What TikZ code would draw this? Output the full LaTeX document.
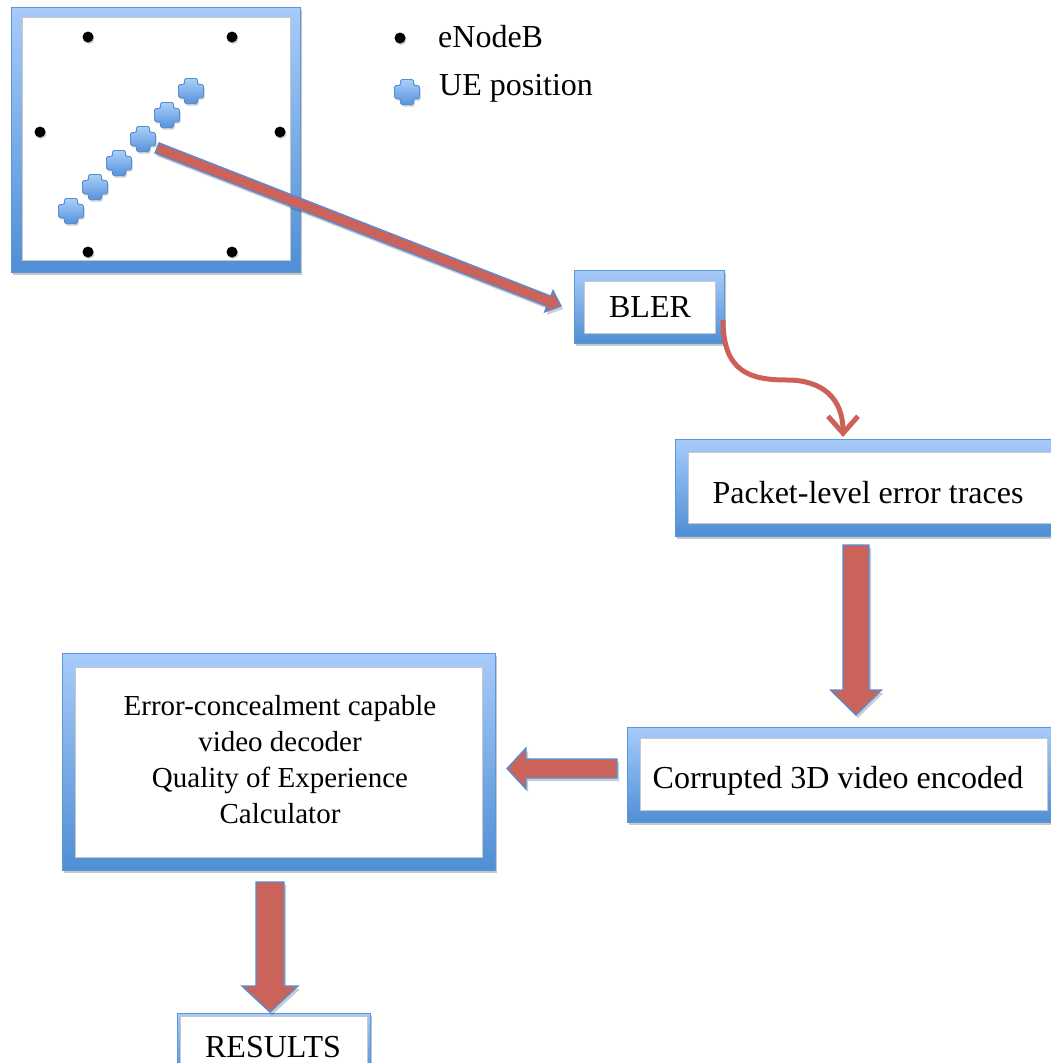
\documentclass[tikz,border=0pt]{standalone}
\usepackage{fontspec}
\setmainfont{Liberation Serif}
\usetikzlibrary{calc,shadows,arrows.meta}

\definecolor{frametop}{RGB}{167,203,250}
\definecolor{framebot}{RGB}{79,143,213}
\definecolor{frameline}{RGB}{91,150,215}
\definecolor{arrowred}{RGB}{203,99,91}
\definecolor{arrowline}{RGB}{84,141,212}
\definecolor{crosstop}{RGB}{172,206,249}
\definecolor{crossbot}{RGB}{86,148,220}
\definecolor{curvered}{RGB}{205,97,88}

% block arrow: tail, tip, half shaft width, head length, half head width
\newcommand\blockarrow[5]{%
  \draw[blockarr] let \p1=($(#2)-(#1)$), \n1={atan2(\y1,\x1)},
      \n2={veclen(\x1,\y1)-#4} in
    ($(#1)+(\n1+90:#3pt)$)
    -- ($(#1)+(\n1:{\n2*1pt})+(\n1+90:#3pt)$)
    -- ($(#1)+(\n1:{\n2*1pt})+(\n1+90:#5pt)$)
    -- (#2)
    -- ($(#1)+(\n1:{\n2*1pt})+(\n1-90:#5pt)$)
    -- ($(#1)+(\n1:{\n2*1pt})+(\n1-90:#3pt)$)
    -- ($(#1)+(\n1-90:#3pt)$) -- cycle;}

\begin{document}
\begin{tikzpicture}[x=1pt,y=-1pt,
  outerbox/.style={top color=frametop, bottom color=framebot, draw=frameline,
    line width=0.8pt,
    drop shadow={shadow xshift=2pt, shadow yshift=-3pt, opacity=0.22, fill=black}},
  innerbox/.style={fill=white, draw=black!22, line width=0.8pt},
  lbl/.style={font=\fontsize{32}{36}\selectfont, inner sep=0pt, text=black},
  enb/.style={circle, fill=black, inner sep=0pt, minimum size=11pt,
    drop shadow={shadow xshift=1pt, shadow yshift=-1.5pt, opacity=0.2, fill=black}},
  crossshape/.style={top color=crosstop, bottom color=crossbot, draw=arrowline,
    line width=0.8pt, rounded corners=1.5pt,
    drop shadow={shadow xshift=1pt, shadow yshift=-2pt, opacity=0.2, fill=black}},
  blockarr/.style={fill=arrowred, draw=arrowline, line width=1.3pt, line join=miter,
    drop shadow={shadow xshift=2pt, shadow yshift=-3pt, opacity=0.2, fill=black}},
  curvearr/.style={draw=curvered, line width=5pt,
    -{Straight Barb[length=17pt,width=30pt,line width=5pt]}},
  uecross/.pic={\path[crossshape] (-6.5,-12.5) -- (6.5,-12.5) -- (6.5,-6.5)
      -- (12.5,-6.5) -- (12.5,6.5) -- (6.5,6.5) -- (6.5,12.5) -- (-6.5,12.5)
      -- (-6.5,6.5) -- (-12.5,6.5) -- (-12.5,-6.5) -- (-6.5,-6.5) -- cycle;}
]
\useasboundingbox (0,0) rectangle (1051,1063);
\clip (0,0) rectangle (1051,1063);
\fill[white] (0,0) rectangle (1051,1063);

% network area with base stations and UE track
\path[outerbox] (11,7) rectangle (300,272);
\path[innerbox] (22,17) rectangle (290,260);
\node[enb] (enb1) at (88,37) {};
\node[enb] (enb2) at (232,37) {};
\node[enb] (enb3) at (40,132) {};
\node[enb] (enb4) at (280,132) {};
\node[enb] (enb5) at (88,252) {};
\node[enb] (enb6) at (232,252) {};
\pic (ue1) at (71,211) {uecross};
\pic (ue2) at (95,187) {uecross};
\pic (ue3) at (119,163) {uecross};
\pic (ue4) at (143,139) {uecross};
\pic (ue5) at (167,115) {uecross};
\pic (ue6) at (191,91) {uecross};

% legend
\node[enb] (legenb) at (400,38) {};
\node[lbl, anchor=base west] (legenbtxt) at (438,47) {eNodeB};
\pic (legue) at (407,92) {uecross};
\node[lbl, anchor=base west] (leguetxt) at (439,95) {UE position};

% BLER
\path[outerbox] (574,270) rectangle (724,343);
\path[innerbox] (584,281) rectangle (715,333);
\node[lbl, anchor=base] (bler) at (650,317) {BLER};

% packet-level traces
\path[outerbox] (675,439) rectangle (1068,536);
\path[innerbox] (688,452) rectangle (1055,523);
\node[lbl, anchor=base] (pkt) at (868,503) {Packet-level error traces};

% corrupted stream
\path[outerbox] (627,727) rectangle (1060,822);
\path[innerbox] (640,738) rectangle (1047,810);
\node[lbl, anchor=base] (corr) at (838,788) {Corrupted 3D video encoded};

% decoder and QoE
\path[outerbox] (62,653) rectangle (495,870);
\path[innerbox] (75,667) rectangle (482,857);
\node[lbl, font=\fontsize{29}{36}\selectfont, align=center] (dec) at (280,760)
  {Error-concealment capable\\video decoder\\Quality of Experience\\Calculator};

% results
\path[outerbox] (177,1013) rectangle (370,1075);
\path[innerbox] (180,1016) rectangle (367,1075);
\node[lbl, anchor=base] (res) at (273,1057) {RESULTS};

% connectors
\coordinate (t1) at (157,148);  \coordinate (h1) at (561,306);
\blockarrow{t1}{h1}{5.5}{13}{11.5}

\coordinate (c0) at (723,320);  \coordinate (c1) at (843,437);
\draw[curvearr] (c0) .. controls (723,372) and (750,380) .. (787,380)
  .. controls (822,380) and (843,398) .. (c1);

\coordinate (t2) at (856,545);  \coordinate (h2) at (856,715);
\blockarrow{t2}{h2}{13}{25}{25.5}

\coordinate (t3) at (617,768.5); \coordinate (h3) at (507,768.5);
\blockarrow{t3}{h3}{9.5}{19}{20.5}

\coordinate (t4) at (270,882);  \coordinate (h4) at (270,1012);
\blockarrow{t4}{h4}{14}{26}{28}
\end{tikzpicture}
\end{document}
